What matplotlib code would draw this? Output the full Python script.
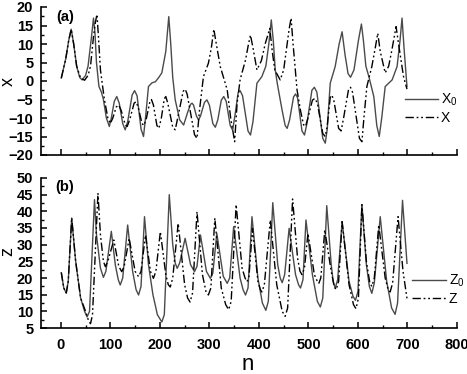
import matplotlib
matplotlib.use('Agg')
import matplotlib.pyplot as plt
from matplotlib.ticker import MultipleLocator

plt.rcParams['font.family'] = ['Liberation Sans', 'DejaVu Sans']
plt.rcParams['mathtext.fontset'] = 'custom'
plt.rcParams['mathtext.rm'] = 'Liberation Sans'
plt.rcParams['mathtext.it'] = 'Liberation Sans'

# panel (a): x0 (solid) and x (dash-dot-dot)
n_x0 = [1, 10, 16, 21, 26, 32, 38, 43, 50, 55, 62, 66, 69, 72, 77, 82, 86, 92,
        98, 102, 108, 113, 118, 125, 130, 135, 144, 149, 154, 162, 167, 171,
        177, 184, 191, 198, 204, 212, 218, 222, 226, 231, 240, 248, 256, 262,
        265, 268, 274, 278, 282, 290, 295, 300, 307, 312, 317, 324, 329, 334,
        342, 347, 352, 358, 362, 367, 378, 383, 388, 396, 406, 414, 420, 425,
        429, 433, 437, 447, 453, 457, 462, 470, 474, 478, 487, 492, 497, 507,
        512, 517, 529, 534, 538, 544, 554, 562, 568, 574, 580, 585, 592, 601,
        607, 611, 616, 622, 632, 638, 643, 648, 655, 669, 679, 685, 689, 693,
        699]
x0 = [0.8, 6, 11, 14, 10, 4, 1, 0.3, 1.5, 4, 12, 17, 13, 5, -1.5, -3, -5, -10,
      -12.3, -10, -5.5, -4.2, -6, -11.5, -13.2, -11, -3.8, -2.6, -4, -13, -15,
      -10, -1.5, -0.5, -0.2, 1, 2.2, 8, 17.4, 10, 1, -5.1, -10.5, -11.9, -8.5,
      -6.3, -6, -6.5, -9.5, -10.5, -9.5, -5.8, -5.1, -6.5, -11.5, -12.5, -10.5,
      -5.2, -4.2, -5.5, -12, -13.3, -9, -3.2, -2.6, -4, -13.5, -14.6, -11,
      -0.6, 1.2, 4, 10, 16.5, 11, 3, -0.6, -8, -12, -12.8, -10.5, -4.3, -3.5,
      -4.5, -13.5, -14.6, -11.5, -2.5, -1.7, -3, -15.5, -16.8, -13, -0.6, 3.9,
      10, 13.3, 7, 2, 1, 3, 11, 15.4, 11, 4, 1.2, -4.2, -12, -15, -10, -1.5,
      0.3, 3.9, 11, 17, 9, -1.5]

n_x = [1, 10, 16, 21, 26, 32, 40, 48, 55, 60, 66, 70, 73, 76, 80, 84, 88, 95,
       100, 105, 112, 117, 122, 130, 134, 139, 148, 152, 156, 164, 168, 173,
       180, 183, 187, 194, 198, 203, 209, 212, 216, 226, 231, 236, 247, 251,
       255, 270, 275, 280, 288, 298, 304, 309, 314, 322, 336, 343, 351, 356,
       362, 373, 379, 383, 388, 396, 405, 413, 422, 427, 432, 443, 450, 455,
       461, 465, 469, 477, 484, 490, 494, 498, 508, 513, 518, 529, 534, 538,
       544, 547, 551, 561, 566, 571, 581, 585, 589, 603, 608, 612, 618, 628,
       635, 640, 645, 655, 662, 668, 677, 682, 692, 699]
x = [0.8, 6, 11, 14, 10, 4, 0.8, 0.2, 1.5, 4, 12, 16, 18, 12, 3, -1, -5, -10,
     -11.5, -10, -7, -6.5, -8, -11.8, -12.3, -10.5, -6, -5.6, -7, -11.5, -12,
     -10, -5.5, -5, -6.5, -12, -12.8, -10, -4.8, -4.2, -6, -12.5, -13.2, -10,
     -2.8, -2.2, -3.5, -14.5, -15.5, -8, 1.2, 4.8, 9, 14, 10, 3.9, -2.4, -10,
     -16.4, -6, 0.3, 5.7, 10, 12.4, 9, 3, 5.5, 10.2, 14.2, 8, 3, 0.3, 3, 8, 14,
     17, 10, -2.4, -8, -11.8, -12.3, -10.5, -5.2, -4.7, -6, -14.2, -15, -12,
     -4.5, -3.8, -5, -12.8, -13.5, -10, -2.3, -1.7, -3, -15.5, -16.4, -10,
     -1.5, 3.9, 9, 12.9, 8, 2.2, 4, 8, 14.7, 10, 1.2, -2.2]

# panel (b): z0 (solid) and z (dash-dot-dot)
n_z0 = [1, 6, 11, 15, 22, 30, 40, 48, 53, 58, 68, 72, 80, 86, 91, 102, 110,
        116, 120, 125, 135, 145, 152, 157, 162, 169, 177, 186, 195, 204, 209,
        219, 226, 231, 235, 240, 251, 262, 270, 275, 282, 294, 302, 307, 315,
        328, 336, 341, 349, 362, 368, 373, 378, 386, 398, 407, 414, 419, 428,
        438, 443, 447, 452, 461, 474, 480, 484, 489, 495, 508, 518, 524, 529,
        537, 546, 550, 554, 559, 568, 582, 590, 595, 600, 608, 617, 623, 628,
        633, 645, 658, 668, 675, 680, 690, 699]
z0 = [21.6, 17, 15.5, 19, 38, 25, 14, 10, 8.3, 10, 43.5, 33, 23, 20.2, 22, 34,
      24, 19.5, 17.9, 20, 35.9, 22, 16.5, 14.9, 17.5, 38.4, 24, 15, 9, 6.8, 9,
      45, 30, 24.5, 22.9, 24.5, 31.9, 24, 21.9, 23.5, 32.9, 22, 19.9, 21.5,
      33.4, 20.5, 18.4, 20, 35.4, 20, 16.5, 14.9, 17, 38.4, 20, 12.5, 10.3,
      13, 42.6, 24, 20, 18.6, 21, 34.9, 21, 18, 17, 19.5, 37.4, 21, 13, 11.3,
      14, 41.7, 24, 19, 16.9, 19.5, 36.9, 19, 14.5, 13.3, 16, 42, 24, 17.5,
      15.4, 18.5, 38.4, 19, 11, 9.1, 12.5, 43.3, 24.4]

n_z = [1, 6, 11, 15, 22, 30, 40, 50, 56, 60, 64, 75, 80, 86, 90, 95, 107, 117,
       123, 128, 138, 150, 157, 162, 171, 181, 187, 192, 201, 212, 217, 221,
       226, 237, 250, 256, 261, 266, 275, 286, 293, 298, 303, 311, 324, 333,
       339, 344, 354, 366, 372, 376, 380, 387, 398, 403, 406, 411, 423, 436,
       447, 453, 458, 468, 478, 483, 487, 492, 499, 512, 518, 521, 525, 533,
       546, 552, 556, 561, 568, 582, 591, 596, 601, 608, 617, 624, 628, 633,
       642, 655, 661, 665, 670, 681, 691, 699]
z = [21.6, 17, 15.5, 19, 38, 25, 14, 10, 7.2, 6.3, 9, 45.5, 33, 25, 23.4, 25,
     31.4, 23.5, 21.9, 23.5, 31.9, 22, 20.4, 22, 32.9, 22, 19.9, 22, 33.9, 21,
     18, 17.3, 20, 36.4, 18, 14, 12.8, 15.5, 39.9, 21, 16, 14.9, 17, 38, 17,
     12, 10.5, 13, 42, 23, 20, 18.9, 20.5, 34.9, 19, 16.5, 15.8, 18, 37.4, 18,
     10, 8.5, 11, 43.7, 26, 22, 21, 23, 33.4, 21, 19, 18.4, 20, 34.4, 22, 17.5,
     16.5, 19, 36.9, 18, 12, 10.8, 14, 42, 25, 18.5, 17.5, 20, 35.9, 20, 16.5,
     15.8, 18.5, 38.4, 22, 13.9]

DASH = (0, (6, 2, 1.3, 2, 1.3, 2))
W, H = 467, 374

fig = plt.figure(figsize=(4.67, 3.74), dpi=100)
ax1 = fig.add_axes([41 / W, 1 - 155 / H, 416 / W, 148 / H])
ax2 = fig.add_axes([41 / W, 1 - 328 / H, 416 / W, 150 / H])

ax1.plot(n_x0, x0, color='#4a4a4a', lw=1.0, label='X$_0$')
ax1.plot(n_x, x, color='black', lw=1.0, linestyle=DASH, label='X')
ax2.plot(n_z0, z0, color='#4a4a4a', lw=1.0, label='Z$_0$')
ax2.plot(n_z, z, color='black', lw=1.0, linestyle=DASH, label='Z')

ax1.set_ylim(-20, 20)
ax2.set_ylim(5, 50)
for ax in (ax1, ax2):
    ax.set_xlim(-40, 800)
    ax.xaxis.set_major_locator(MultipleLocator(100))
    ax.xaxis.set_minor_locator(MultipleLocator(50))
    ax.yaxis.set_major_locator(MultipleLocator(5))
    ax.yaxis.set_minor_locator(MultipleLocator(2.5))
    ax.spines['top'].set_visible(False)
    ax.spines['right'].set_visible(False)
    for s in ('left', 'bottom'):
        ax.spines[s].set_linewidth(1.2)
    ax.tick_params(which='major', direction='in', length=4.5, width=1.1,
                   labelsize=10.5, pad=5.5)
    ax.tick_params(which='minor', direction='in', length=2.5, width=1.0)
    for lab in ax.get_yticklabels() + ax.get_xticklabels():
        lab.set_fontweight('bold')
ax1.tick_params(axis='x', labelbottom=False)
ax2.tick_params(axis='x', pad=7)

ax1.legend(loc='center left', bbox_to_anchor=(0.875, 0.314), frameon=False,
           fontsize=10, handlelength=2.4, handletextpad=0.2, labelspacing=0.2,
           borderpad=0, borderaxespad=0)
ax2.legend(loc='center left', bbox_to_anchor=(0.893, 0.257), frameon=False,
           fontsize=10, handlelength=2.4, handletextpad=0.2, labelspacing=0.2,
           borderpad=0, borderaxespad=0)

fig.text(65 / W, 1 - 17 / H, '(a)', ha='center', va='center',
         fontsize=10.5, fontweight='bold')
fig.text(65 / W, 1 - 186.5 / H, '(b)', ha='center', va='center',
         fontsize=10.5, fontweight='bold')
fig.text(8 / W, 1 - 81 / H, 'x', rotation=90, ha='center', va='center', fontsize=13)
fig.text(8 / W, 1 - 251 / H, 'z', rotation=90, ha='center', va='center', fontsize=13)
fig.text(247.5 / W, 1 - 365 / H, 'n', ha='center', va='center', fontsize=16)

fig.savefig('out.png', dpi=100)
